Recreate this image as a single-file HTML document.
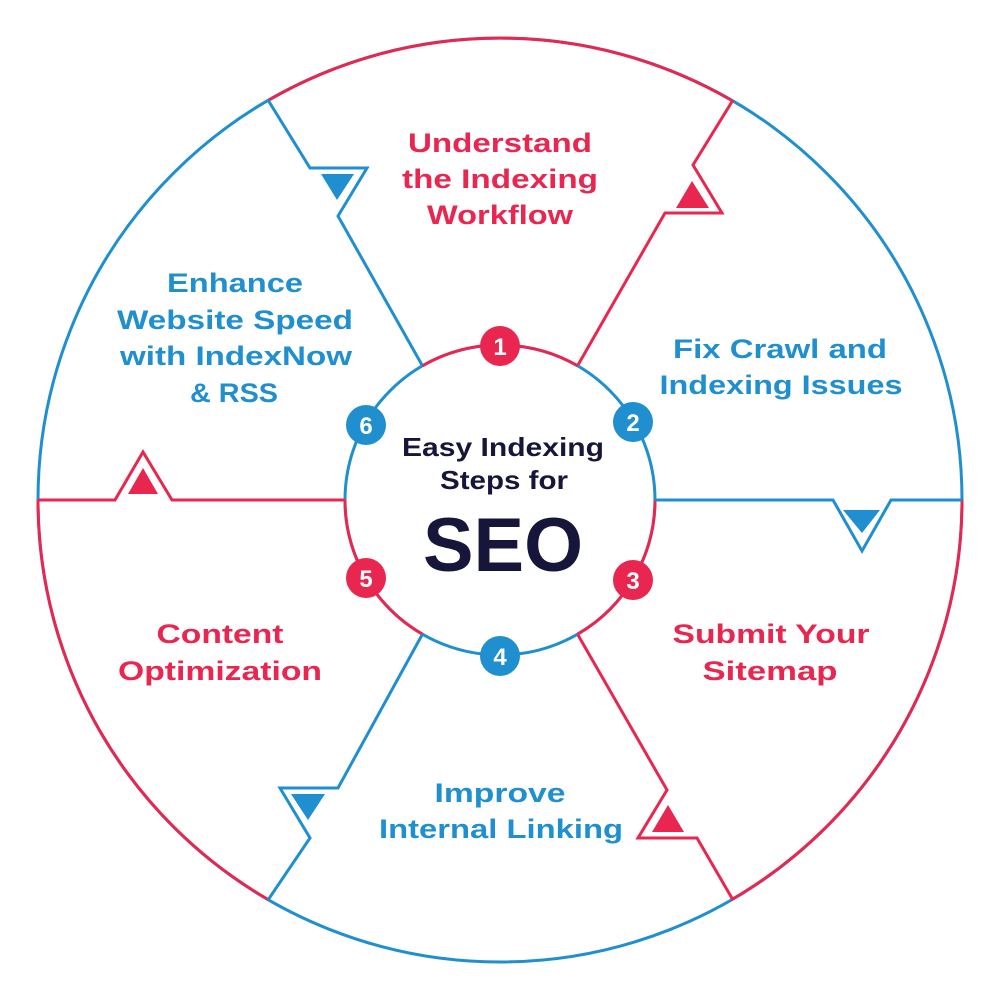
<!DOCTYPE html>
<html><head><meta charset="utf-8"><style>
html,body{margin:0;padding:0;background:#fff;}
svg{display:block}
text{font-family:"Liberation Sans",sans-serif;font-weight:bold;text-anchor:middle}
.r{fill:#e8264f}.b{fill:#1f8fcf}
</style></head><body>
<svg width="1000" height="1000" viewBox="0 0 1000 1000">
<g fill="none" stroke-width="3">
<circle cx="500" cy="500" r="462" stroke="#1f8fcf"/>
<path d="M269 100 A462 462 0 0 1 731 100" stroke="#e8264f"/>
<path d="M962 500 A462 462 0 0 1 731 900" stroke="#e8264f"/>
<path d="M269 900 A462 462 0 0 1 38 500" stroke="#e8264f"/>
<circle cx="500" cy="500" r="155" stroke="#1f8fcf"/>
<path d="M422.5 365.8 A155 155 0 0 1 577.5 365.8" stroke="#e8264f"/>
<path d="M655 500 A155 155 0 0 1 577.5 634.2" stroke="#e8264f"/>
<path d="M422.5 634.2 A155 155 0 0 1 345 500" stroke="#e8264f"/>
<polyline points="578,365 665,213 722,213 693,165 733,100" stroke="#e8264f"/>
<polyline points="655,500 833,500 862,551 891,500 962,500" stroke="#1f8fcf"/>
<polyline points="578,635 667,790 638,838 697,838 733,900" stroke="#e8264f"/>
<polyline points="422,635 338,788 280,788 310,838 268,900" stroke="#1f8fcf"/>
<polyline points="345,500 172,500 143,452 115,500 38,500" stroke="#e8264f"/>
<polyline points="268,100 310,168 367,168 338,216 422,365" stroke="#1f8fcf"/>
</g>
<polygon class="r" points="676,208 709,208 692,181"/>
<polygon class="b" points="843,510 880,510 862,533"/>
<polygon class="r" points="652,832 684,832 668,805"/>
<polygon class="b" points="291,794 325,794 308,820"/>
<polygon class="r" points="128,494 158,494 143,468"/>
<polygon class="b" points="321,174 354,174 337,200"/>
<g font-size="24" fill="#fff">
<circle cx="500" cy="346" r="20" class="r"/><text x="500" y="355">1</text>
<circle cx="633" cy="422" r="20" class="b"/><text x="633" y="431">2</text>
<circle cx="633" cy="580" r="20" class="r"/><text x="633" y="589">3</text>
<circle cx="500" cy="656" r="20" class="b"/><text x="500" y="665">4</text>
<circle cx="366" cy="578" r="20" class="r"/><text x="366" y="587">5</text>
<circle cx="366" cy="425" r="20" class="b"/><text x="366" y="434">6</text>
</g>
<g font-size="27" class="r">
<text x="500" y="152" textLength="184" lengthAdjust="spacingAndGlyphs">Understand</text>
<text x="500" y="188" textLength="196" lengthAdjust="spacingAndGlyphs">the Indexing</text>
<text x="500" y="224" textLength="146" lengthAdjust="spacingAndGlyphs">Workflow</text>
<text x="771" y="643" textLength="197" lengthAdjust="spacingAndGlyphs">Submit Your</text>
<text x="770" y="680" textLength="135" lengthAdjust="spacingAndGlyphs">Sitemap</text>
<text x="220" y="643" textLength="127" lengthAdjust="spacingAndGlyphs">Content</text>
<text x="220" y="680" textLength="204" lengthAdjust="spacingAndGlyphs">Optimization</text>
</g>
<g font-size="27" class="b">
<text x="780" y="358" textLength="214" lengthAdjust="spacingAndGlyphs">Fix Crawl and</text>
<text x="781" y="394" textLength="243" lengthAdjust="spacingAndGlyphs">Indexing Issues</text>
<text x="500" y="802" textLength="131" lengthAdjust="spacingAndGlyphs">Improve</text>
<text x="501" y="838" textLength="244" lengthAdjust="spacingAndGlyphs">Internal Linking</text>
<text x="235" y="292" textLength="136" lengthAdjust="spacingAndGlyphs">Enhance</text>
<text x="235" y="329" textLength="236" lengthAdjust="spacingAndGlyphs">Website Speed</text>
<text x="236" y="365" textLength="232" lengthAdjust="spacingAndGlyphs">with IndexNow</text>
<text x="234" y="402" textLength="88" lengthAdjust="spacingAndGlyphs">&amp; RSS</text>
</g>
<g fill="#15163a">
<text x="503" y="456" font-size="26" textLength="202" lengthAdjust="spacingAndGlyphs">Easy Indexing</text>
<text x="504" y="489" font-size="26" textLength="128" lengthAdjust="spacingAndGlyphs">Steps for</text>
<text x="503" y="571" font-size="76" textLength="160" lengthAdjust="spacingAndGlyphs">SEO</text>
</g>
</svg>
</body></html>
